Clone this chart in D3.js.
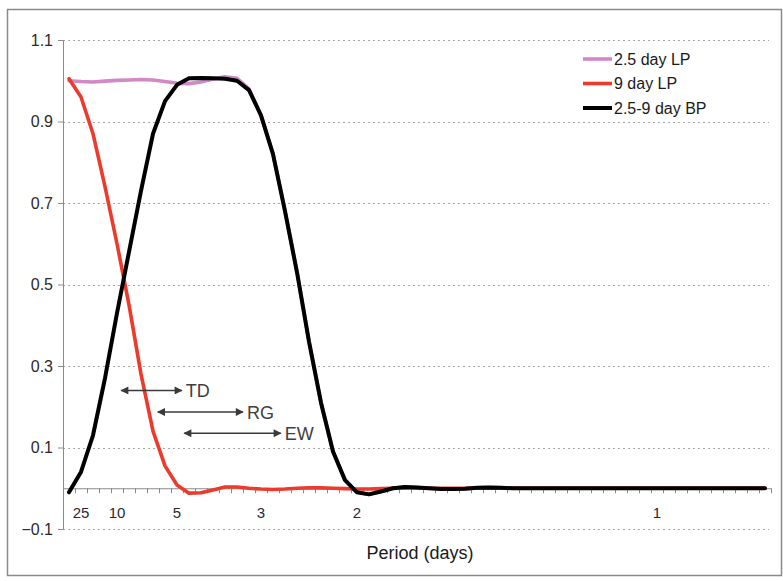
<!DOCTYPE html>
<html>
<head>
<meta charset="utf-8">
<script src="https://cdn.jsdelivr.net/npm/d3@7"></script>
<style>
  body { margin: 0; background: #fff; }
  text { font-family: "Liberation Sans", Arial, sans-serif; }
</style>
</head>
<body>
<div id="chart"></div>
<script>
// frequency (cycles/day) of each sample
const freqs = [
  0.02, 0.04, 0.06, 0.08, 0.10, 0.12, 0.14, 0.16, 0.18, 0.20,
  0.22, 0.24, 0.26, 0.28, 0.30, 0.32, 0.34, 0.36, 0.38, 0.40,
  0.42, 0.44, 0.46, 0.48, 0.50, 0.52, 0.54, 0.56, 0.58, 0.60,
  0.62, 0.64, 0.66, 0.68, 0.70, 0.72, 0.74, 0.76, 0.78, 0.80,
  0.82, 0.84, 0.86, 0.88, 0.90, 0.92, 0.94, 0.96, 0.98, 1.00,
  1.02, 1.04, 1.06, 1.08, 1.10, 1.12, 1.14, 1.16, 1.18
];

const lp25 = [
  1.000, 0.998, 0.997, 0.999, 1.001, 1.002, 1.003, 1.002, 0.998, 0.994,
  0.993, 0.997, 1.004, 1.010, 1.006, 0.980, 0.915, 0.820, 0.680, 0.530,
  0.360, 0.210, 0.090, 0.020, -0.010, -0.015, -0.008, 0.000, 0.003, 0.002,
  0.000, -0.002, -0.002, -0.001, 0.001, 0.002, 0.001, 0.000, 0.000, 0.000,
  0.000, 0.000, 0.000, 0.000, 0.000, 0.000, 0.000, 0.000, 0.000, 0.000,
  0.000, 0.000, 0.000, 0.000, 0.000, 0.000, 0.000, 0.000, 0.000
];

const lp9 = [
  1.005, 0.960, 0.870, 0.740, 0.600, 0.450, 0.280, 0.140, 0.055, 0.008,
  -0.012, -0.011, -0.004, 0.003, 0.003, 0.000, -0.002, -0.003, -0.002, 0.000,
  0.001, 0.001, 0.000, -0.001, -0.002, -0.002, -0.001, 0.000, 0.001, 0.001,
  0.000, 0.000, 0.000, 0.000, 0.000, 0.000, 0.000, 0.000, 0.000, 0.000,
  0.000, 0.000, 0.000, 0.000, 0.000, 0.000, 0.000, 0.000, 0.000, 0.000,
  0.000, 0.000, 0.000, 0.000, 0.000, 0.000, 0.000, 0.000, 0.000
];

const bp = [
  -0.010, 0.040, 0.130, 0.270, 0.430, 0.580, 0.730, 0.870, 0.950, 0.990,
  1.006, 1.007, 1.006, 1.005, 1.000, 0.977, 0.915, 0.820, 0.680, 0.530,
  0.360, 0.210, 0.090, 0.020, -0.010, -0.015, -0.008, 0.000, 0.003, 0.002,
  0.000, -0.002, -0.002, -0.001, 0.001, 0.002, 0.001, 0.000, 0.000, 0.000,
  0.000, 0.000, 0.000, 0.000, 0.000, 0.000, 0.000, 0.000, 0.000, 0.000,
  0.000, 0.000, 0.000, 0.000, 0.000, 0.000, 0.000, 0.000, 0.000
];

const seriesNames = ["2.5 day LP", "9 day LP", "2.5-9 day BP"];
const seriesColors = ["#d088c8", "#ec3a2d", "#000000"];

// period labels shown on the frequency axis
const periodTickFreqs = [0.04, 0.10, 0.20, 0.34, 0.50, 1.00];
const periodTickLabels = ["25", "10", "5", "3", "2", "1"];

const yTicks = [-0.1, 0.1, 0.3, 0.5, 0.7, 0.9, 1.1];

const annotations = [
  { label: "TD", from: 0.107, to: 0.208, y: 0.240 },
  { label: "RG", from: 0.168, to: 0.310, y: 0.187 },
  { label: "EW", from: 0.212, to: 0.373, y: 0.135 }
];

const width = 783;
const height = 581;

const svg = d3.select("#chart")
    .append("svg")
    .attr("width", width)
    .attr("height", height);

// outer frame
svg.append("rect")
    .attr("x", 7.5)
    .attr("y", 9.5)
    .attr("width", 774)
    .attr("height", 566)
    .attr("fill", "#fff")
    .attr("stroke", "#8a8a8a")
    .attr("stroke-width", 1.5);

const x = d3.scaleLinear().domain([0.01, 1.19]).range([63, 771]);
const y = d3.scaleLinear().domain([-0.1, 1.1]).range([529, 40]);

// dotted gridlines
svg.append("g")
    .selectAll("line")
    .data(yTicks)
    .join("line")
    .attr("x1", x(0.01))
    .attr("x2", x(1.19) - 2)
    .attr("y1", d => Math.round(y(d)) + 0.5)
    .attr("y2", d => Math.round(y(d)) + 0.5)
    .attr("stroke", "#a8a8a8")
    .attr("stroke-width", 1.2)
    .attr("stroke-dasharray", "2,3");

// y axis
const yAxis = d3.axisLeft(y)
    .tickValues(yTicks)
    .tickSize(5)
    .tickPadding(5)
    .tickFormat(d3.format(".1f"));

const yG = svg.append("g")
    .attr("transform", `translate(${x(0.01)},0)`)
    .call(yAxis);
yG.select(".domain").attr("stroke", "#8a8a8a");
yG.selectAll(".tick line").attr("stroke", "#8a8a8a");
yG.selectAll(".tick text")
    .attr("font-size", 16)
    .attr("fill", "#2a2a2a")
    .style("font-family", "'Liberation Sans', Arial, sans-serif");

// x axis at y = 0: minor ticks between samples
const minorTicks = [0.01].concat(freqs.map(f => f + 0.01));
const xAxis = d3.axisBottom(x)
    .tickValues(minorTicks)
    .tickSize(5)
    .tickSizeOuter(0)
    .tickFormat("");

const xG = svg.append("g")
    .attr("transform", `translate(0,${y(0)})`)
    .call(xAxis);
xG.select(".domain").attr("stroke", "#8a8a8a");
xG.selectAll(".tick line").attr("stroke", "#8a8a8a");

svg.append("g")
    .selectAll("text")
    .data(periodTickFreqs)
    .join("text")
    .attr("x", d => x(d))
    .attr("y", y(0) + 30)
    .attr("text-anchor", "middle")
    .attr("font-size", 15)
    .attr("fill", "#2a2a2a")
    .text((d, i) => periodTickLabels[i]);

svg.append("text")
    .attr("x", 420)
    .attr("y", 559)
    .attr("text-anchor", "middle")
    .attr("font-size", 18)
    .attr("fill", "#1a1a1a")
    .text("Period (days)");

// series lines
const line = d3.line()
    .x((d, i) => x(freqs[i]))
    .y(d => y(d));

const allSeries = [lp25, lp9, bp];
const widths = [3.6, 3.6, 4];

svg.append("g")
    .selectAll("path")
    .data(allSeries)
    .join("path")
    .attr("d", d => line(d))
    .attr("fill", "none")
    .attr("stroke", (d, i) => seriesColors[i])
    .attr("stroke-width", (d, i) => widths[i])
    .attr("stroke-linejoin", "round")
    .attr("stroke-linecap", "round");

// annotation arrows
const defs = svg.append("defs");
["end", "start"].forEach(k => {
    defs.append("marker")
        .attr("id", "arrow-" + k)
        .attr("viewBox", "0 0 10 10")
        .attr("refX", k === "end" ? 9 : 1)
        .attr("refY", 5)
        .attr("markerWidth", 9)
        .attr("markerHeight", 8)
        .attr("markerUnits", "userSpaceOnUse")
        .attr("orient", "auto")
        .append("path")
        .attr("d", k === "end" ? "M0,0 L10,5 L0,10 Z" : "M10,0 L0,5 L10,10 Z")
        .attr("fill", "#3a3a3a");
});

const ann = svg.append("g");
ann.selectAll("line")
    .data(annotations)
    .join("line")
    .attr("x1", d => x(d.from))
    .attr("x2", d => x(d.to))
    .attr("y1", d => y(d.y))
    .attr("y2", d => y(d.y))
    .attr("stroke", "#3a3a3a")
    .attr("stroke-width", 1.5)
    .attr("marker-start", "url(#arrow-start)")
    .attr("marker-end", "url(#arrow-end)");

ann.selectAll("text")
    .data(annotations)
    .join("text")
    .attr("x", d => x(d.to) + 4)
    .attr("y", d => y(d.y))
    .attr("dy", "0.36em")
    .attr("font-size", 18)
    .attr("fill", "#404040")
    .text(d => d.label);

// legend
const legend = svg.append("g")
    .attr("transform", "translate(583,59)");

const legendRows = legend.selectAll("g")
    .data(seriesNames)
    .join("g")
    .attr("transform", (d, i) => `translate(0,${i * 24.5})`);

legendRows.append("line")
    .attr("x1", 0)
    .attr("x2", 29)
    .attr("stroke", (d, i) => seriesColors[i])
    .attr("stroke-width", (d, i) => widths[i]);

legendRows.append("text")
    .attr("x", 31)
    .attr("dy", "0.36em")
    .attr("font-size", 16)
    .attr("fill", "#1a1a1a")
    .text(d => d);
</script>
</body>
</html>
